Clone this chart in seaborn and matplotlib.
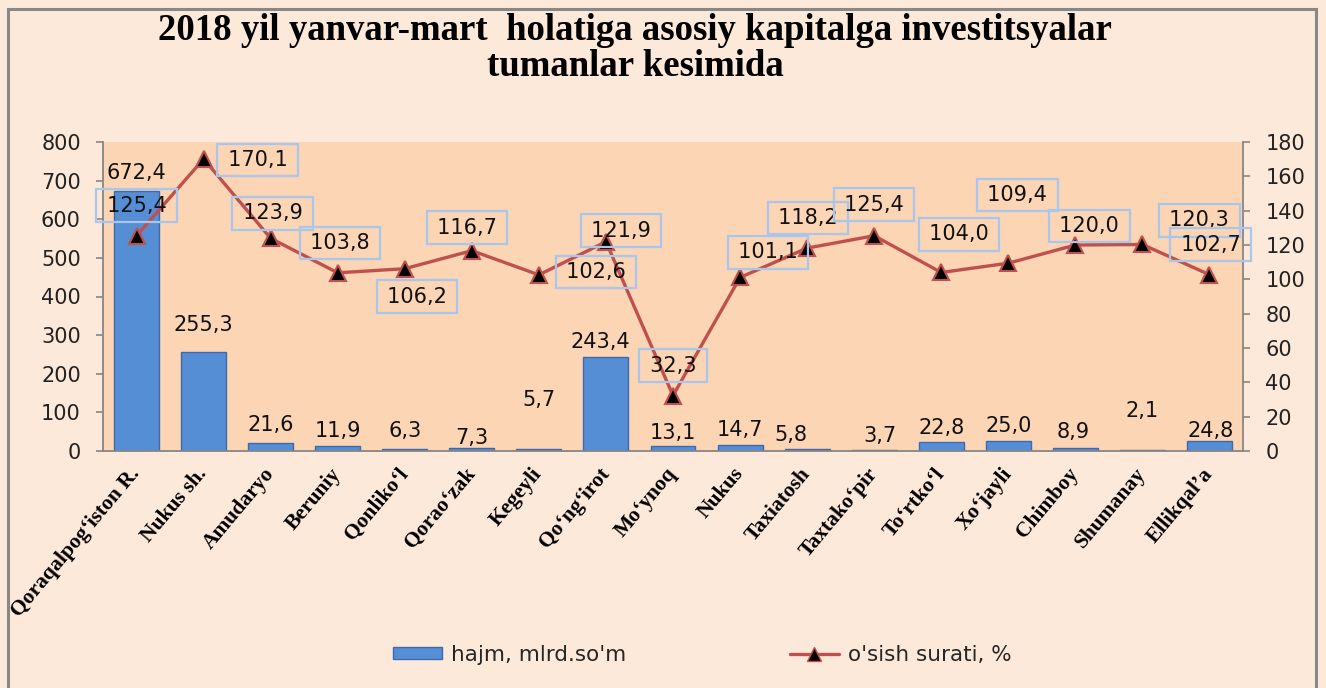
import matplotlib
matplotlib.use("Agg")
import matplotlib.pyplot as plt
import seaborn as sns
import numpy as np
from matplotlib.patches import Patch, Rectangle
from matplotlib.lines import Line2D

# ---------------- data ----------------
categories = ["Qoraqalpog‘iston R.", "Nukus sh.", "Amudaryo", "Beruniy", "Qonliko‘l",
              "Qorao‘zak", "Kegeyli", "Qo‘ng‘irot", "Mo‘ynoq", "Nukus", "Taxiatosh",
              "Taxtako‘pir", "To‘rtko‘l", "Xo‘jayli", "Chimboy", "Shumanay", "Ellikqal’a"]
volume = [672.4, 255.3, 21.6, 11.9, 6.3, 7.3, 5.7, 243.4, 13.1, 14.7, 5.8, 3.7,
          22.8, 25.0, 8.9, 2.1, 24.8]
growth = [125.4, 170.1, 123.9, 103.8, 106.2, 116.7, 102.6, 121.9, 32.3, 101.1,
          118.2, 125.4, 104.0, 109.4, 120.0, 120.3, 102.7]
volume_labels = ["672,4", "255,3", "21,6", "11,9", "6,3", "7,3", "5,7", "243,4", "13,1",
                 "14,7", "5,8", "3,7", "22,8", "25,0", "8,9", "2,1", "24,8"]
growth_labels = ["125,4", "170,1", "123,9", "103,8", "106,2", "116,7", "102,6", "121,9",
                 "32,3", "101,1", "118,2", "125,4", "104,0", "109,4", "120,0", "120,3",
                 "102,7"]
left_ticks = list(range(0, 801, 100))
right_ticks = list(range(0, 181, 20))
title_line1 = "2018 yil yanvar-mart  holatiga asosiy kapitalga investitsyalar"
title_line2 = "tumanlar kesimida"
legend_bar = "hajm, mlrd.so'm"
legend_line = "o'sish surati, %"

# label placement (pixel offsets, dx right / dy up)
bar_label_off = [(0, 18), (0, 27), (0, 18), (0, 15), (0, 18), (0, 10), (0, 49), (-6, 15),
                 (0, 13), (0, 15), (-16, 14), (6, 14), (0, 14), (0, 15), (-2, 16),
                 (0, 39), (1, 10)]
line_label_off = [(0, 30), (54, -1), (2, 25), (2, 30), (12, -28), (-5, 23), (57, 3),
                  (15, 11), (0, 30), (28, 25), (1, 30), (0, 31), (18, 38), (9, 68),
                  (14, 19), (57, 24), (1, 30)]

# ---------------- style ----------------
W, H = 1326, 688
DPI = 100
sns.set_theme(style="white")
plt.rcParams['font.family'] = ['DejaVu Sans']
PX = 72.0 / DPI

fig = plt.figure(figsize=(W / DPI, H / DPI), dpi=DPI, facecolor="#FDE9D9")
ax = fig.add_axes([103 / W, 1 - 451 / H, (1243 - 103) / W, (451 - 142) / H])
ax.set_facecolor("#FCD5B4")

sns.barplot(x=categories, y=volume, ax=ax, color="#558ED5", saturation=1,
            edgecolor="#3D6AAE", linewidth=1.0, width=0.67, zorder=2)
ax.set_xlim(-0.5, len(categories) - 0.5)
ax.set_ylim(0, 800)
ax.set_yticks(left_ticks)
ax.set_xlabel("")
ax.set_ylabel("")

ax2 = ax.twinx()
ax2.set_facecolor("none")
xpos = np.arange(len(categories))
sns.lineplot(x=xpos, y=growth, ax=ax2, color="#C0504D", linewidth=2.4,
             marker="^", markersize=12, markerfacecolor="black",
             markeredgecolor="#C0504D", markeredgewidth=1.5, zorder=3)
ax2.set_ylim(0, 180)
ax2.set_yticks(right_ticks)
ax2.set_ylabel("")
ax2.set_xlim(-0.5, len(categories) - 0.5)

gray = "#868686"
for a in (ax, ax2):
    for s in a.spines.values():
        s.set_visible(False)
ax.spines["left"].set_visible(True)
ax.spines["left"].set_color(gray)
ax.spines["bottom"].set_visible(True)
ax.spines["bottom"].set_color(gray)
ax2.spines["right"].set_visible(True)
ax2.spines["right"].set_color(gray)
for sp in (ax.spines["left"], ax.spines["bottom"], ax2.spines["right"]):
    sp.set_linewidth(1.3)

ax.tick_params(axis="y", which="both", left=True, length=5, width=1.2, color=gray,
               labelsize=15, labelcolor="#222222", pad=11)
ax2.tick_params(axis="y", which="both", right=True, length=5, width=1.2, color=gray,
                labelsize=15, labelcolor="#222222", pad=11)
ax.tick_params(axis="x", length=0, pad=14)
ax.set_xticks(xpos)
ax.set_xticklabels(categories, rotation=50, ha="right", va="center",
                   rotation_mode="anchor", fontfamily="Liberation Serif",
                   fontweight="bold", fontsize=15.5, color="black")
ax2.grid(False)
ax.grid(False)

# bar labels
for i, (v, lab) in enumerate(zip(volume, volume_labels)):
    dx, dy = bar_label_off[i]
    ax.annotate(lab, xy=(i, v), xytext=(dx * PX, dy * PX), textcoords="offset points",
                ha="center", va="center", fontsize=15, color="#111111", zorder=5)

# line labels
for i, (v, lab) in enumerate(zip(growth, growth_labels)):
    dx, dy = line_label_off[i]
    ax2.annotate("\u2009" + lab + "\u2009", xy=(i, v), xytext=(dx * PX, dy * PX),
                 textcoords="offset points", ha="center", va="center", fontsize=15,
                 color="#111111", zorder=6,
                 bbox=dict(boxstyle="square,pad=0.3", facecolor="none",
                           edgecolor="#A9C6EC", linewidth=1.6))

# title
fig.text(635 / W, 1 - 31 / H, title_line1, ha="center", va="center",
         fontfamily="Liberation Serif", fontweight="bold", fontsize=26.5, color="black")
fig.text(635 / W, 1 - 67 / H, title_line2, ha="center", va="center",
         fontfamily="Liberation Serif", fontweight="bold", fontsize=26.5, color="black")

# legend
handles = [Patch(facecolor="#558ED5", edgecolor="#3D6AAE", linewidth=1.0),
           Line2D([0], [0], color="#C0504D", linewidth=2.4, marker="^", markersize=10,
                  markerfacecolor="black", markeredgecolor="#C0504D")]
fig.legend(handles, [legend_bar, legend_line], loc="center", ncol=2,
           bbox_to_anchor=(702 / W, 1 - 655 / H), frameon=False, fontsize=15.5,
           handlelength=2.3, handleheight=0.5, columnspacing=7.6, handletextpad=0.4)

# outer frame
fig.patches.append(Rectangle((8 / W, -0.05), (1316 - 8) / W, 1 - 9 / H + 0.05,
                             transform=fig.transFigure, fill=False,
                             edgecolor="#888888", linewidth=2.2))

fig.savefig("out.png", dpi=DPI, facecolor=fig.get_facecolor())
